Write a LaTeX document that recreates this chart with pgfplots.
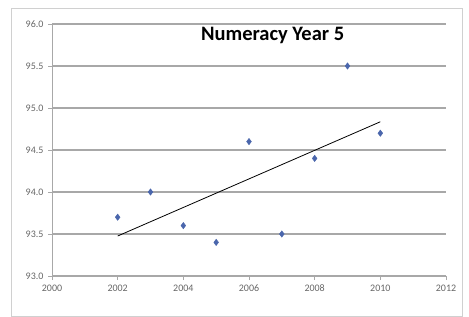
\documentclass[border=0pt]{standalone}
\usepackage{pgfplots}
\pgfplotsset{compat=1.18}
\usepackage{fontspec}
\setmainfont{Carlito}
\definecolor{ptblue}{HTML}{4A66AC}
\definecolor{gridgray}{HTML}{A8A8A8}
\definecolor{framegray}{HTML}{D0D0D0}
\begin{document}
\begin{tikzpicture}[x=1pt,y=1pt]
\begin{axis}[
  name=ax,
  at={(0,0)}, anchor=south west,
  scale only axis,
  width=394pt, height=252pt,
  xmin=2000, xmax=2012,
  ymin=93, ymax=96,
  xtick={2000,2002,...,2012},
  ytick={93,93.5,...,96},
  /pgf/number format/.cd, fixed, fixed zerofill, precision=1, 1000 sep={}, assume math mode=true,
  /pgfplots/.cd,
  xticklabel style={/pgf/number format/precision=0, /pgf/number format/fixed zerofill=false, yshift=-1pt},
  yticklabel style={xshift=-1pt},
  tick label style={font=\fontsize{10}{11}\selectfont, text=black!60},
  axis x line*=bottom, axis y line*=left,
  axis line style={gridgray, line width=1pt, -},
  tick style={gridgray, line width=0.7pt},
  tick align=outside,
  major tick length=4pt,
  ymajorgrids,
  grid style={gridgray, line width=1.2pt},
  clip=false,
]
\addplot[only marks, mark=diamond*, mark size=3.2pt, color=ptblue] coordinates {
  (2002,93.7) (2003,94.0) (2004,93.6) (2005,93.4) (2006,94.6)
  (2007,93.5) (2008,94.4) (2009,95.5) (2010,94.7)
};
\addplot[black, line width=0.8pt, no marks] coordinates {
  (2002,93.476) (2010,94.836)
};
\node[font=\bfseries\fontsize{20.5}{24}\selectfont] at (rel axis cs:0.56,0.955) {Numeracy Year 5};
\end{axis}
\draw[framegray, line width=0.8pt] (-41,-40) rectangle (410,268);
\path[use as bounding box] (-52,-28) rectangle (417,276);
\end{tikzpicture}
\end{document}
